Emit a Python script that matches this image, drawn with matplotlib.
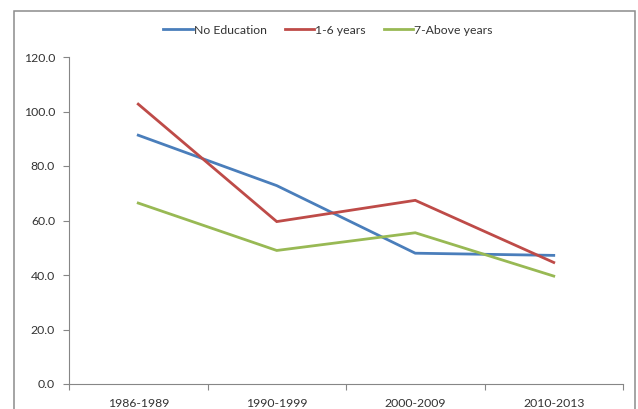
import matplotlib
matplotlib.use("Agg")
import matplotlib.pyplot as plt
from matplotlib.patches import Rectangle
import numpy as np

periods = ["1986-1989", "1990-1999", "2000-2009", "2010-2013"]
no_education = [91.3, 72.8, 48.0, 47.2]
years_1_6 = [102.7, 59.6, 67.4, 44.6]
years_7_above = [66.4, 49.0, 55.5, 39.6]

series_names = ["No Education", "1-6 years", "7-Above years"]
colors = ["#4A7EBB", "#BE4B48", "#98B954"]

plt.rcParams["font.family"] = ["Lato", "DejaVu Sans"]

fig = plt.figure(figsize=(6.38, 4.09), dpi=100)
fig.patch.set_facecolor("white")

# outer chart border (bottom edge falls below the canvas)
fig.patches.append(Rectangle((14 / 638, -0.1), (635 - 14) / 638, 1.1 - 11 / 409,
                             transform=fig.transFigure, fill=False,
                             edgecolor="#8C8C8C", linewidth=1.1, zorder=0))

ax = fig.add_axes([69 / 638, 1 - 384 / 409, (623 - 69) / 638, (384 - 57) / 409])

x = np.arange(len(periods))
for vals, name, c in zip([no_education, years_1_6, years_7_above], series_names, colors):
    ax.plot(x, vals, color=c, linewidth=2.0, label=name, solid_joinstyle="miter")

ax.set_xlim(-0.5, len(periods) - 0.5)
ax.set_ylim(0, 120)
ax.set_yticks(np.arange(0, 121, 20))
ax.set_yticklabels([f"{v:.1f}" for v in np.arange(0, 121, 20)])
ax.set_xticks(x)
ax.set_xticklabels(periods)
ax.set_xticks(np.arange(-0.5, len(periods), 1.0), minor=True)

for side in ["top", "right"]:
    ax.spines[side].set_visible(False)
for side in ["left", "bottom"]:
    ax.spines[side].set_color("#868686")
    ax.spines[side].set_linewidth(0.8)

ax.tick_params(axis="y", direction="out", length=4, width=0.8, color="#868686",
               pad=6, labelsize=8.8, labelcolor="#333333")
ax.tick_params(axis="x", which="major", length=0, pad=10, labelsize=8.8,
               labelcolor="#333333")
ax.tick_params(axis="x", which="minor", direction="out", length=4, width=0.8,
               color="#868686")

leg = fig.legend(loc="center", bbox_to_anchor=(328 / 638, 1 - 30 / 409), ncol=3,
                 frameon=False, fontsize=8.8, handlelength=2.4, handletextpad=0.1,
                 columnspacing=1.45)
for t in leg.get_texts():
    t.set_color("#333333")

fig.savefig("out.png", dpi=100)
